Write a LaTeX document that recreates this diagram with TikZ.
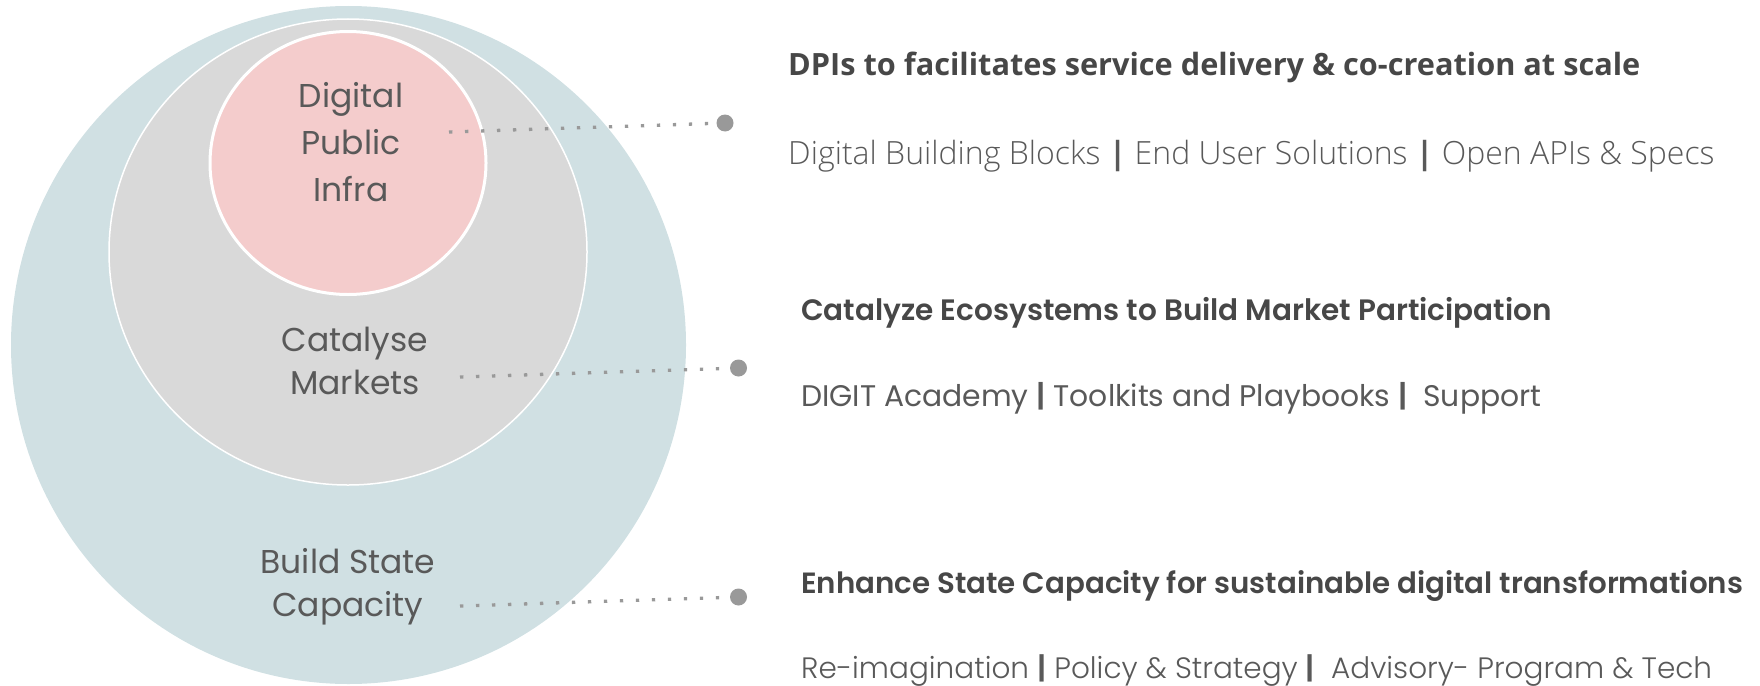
\documentclass[tikz,border=0pt]{standalone}
\usepackage{fontspec}
\setmainfont{Poppins}[BoldFont={Poppins SemiBold}]
\newfontfamily\poppinslight{Poppins Light}
\newfontfamily\opensans{Open Sans}
\newfontfamily\opensanslight{Open Sans Light}
\usetikzlibrary{positioning}
\definecolor{ringteal}{HTML}{D0E0E3}
\definecolor{ringgray}{HTML}{D9D9D9}
\definecolor{ringpink}{HTML}{F4CCCC}
\definecolor{ink}{HTML}{595959}
\definecolor{dotgray}{HTML}{999999}
\newcommand{\sepbar}{\textbf{|}}
\tikzset{
  ringtext/.style={align=center, text=ink, font=\fontsize{33}{43}\selectfont},
  headtext/.style={anchor=base west, inner sep=0pt, text=ink!80!black, font=\fontsize{29.5}{32}\selectfont\bfseries},
  subtext/.style={anchor=base west, inner sep=0pt, text=ink, font=\fontsize{29.5}{32}\selectfont\poppinslight}
}
\tikzset{
  enddot/.style={circle, fill=dotgray, minimum size=17pt, inner sep=0pt},
  dotline/.style={dotgray, line width=3.3pt, dash pattern=on 3.3pt off 12.7pt}
}
\begin{document}
\begin{tikzpicture}[x=1pt,y=-1pt]
  \useasboundingbox (0,0) rectangle (1760,685);
  %%% circles
  \fill[ringteal] (348.5,345) ellipse [x radius=337.5pt, y radius=339pt];
  \draw[white, line width=1.5pt, fill=ringgray] (348,252) ellipse [x radius=239pt, y radius=233pt];
  \draw[white, line width=3pt, fill=ringpink] (348,163) ellipse [x radius=138pt, y radius=131.5pt];
  %%% labels
  \node[ringtext, font=\fontsize{33}{47}\selectfont] (dpi) at (351,142) {Digital\\Public\\Infra};
  \node[ringtext] (mkt) at (355,361) {Catalyse\\Markets};
  \node[ringtext] (cap) at (348,587) {Build State\\Capacity};
  %%% dotted leaders
  \coordinate (dpi-start) at (449,132);
  \coordinate (mkt-start) at (460,377);
  \coordinate (cap-start) at (460,606);
  \node[enddot] (dpi-dot) at (725,123) {};
  \node[enddot] (mkt-dot) at (738.5,368) {};
  \node[enddot] (cap-dot) at (738.5,597) {};
  \foreach \s in {dpi,mkt,cap}
    \draw[dotline] (\s-start) -- (\s-dot);
  %%% texts on the right
  \node[headtext, font=\fontsize{30.7}{32}\selectfont\bfseries] (dpi-head) at (788,75) {\opensans DPIs to facilitates service delivery \& co-creation at scale};
  \node[subtext, font=\fontsize{32}{36}\selectfont] (dpi-sub) at (788,164) {\opensanslight Digital Building Blocks {\opensans\sepbar} End User Solutions {\opensans\sepbar} Open APIs \& Specs};
  \node[headtext] (mkt-head) at (801,320) {Catalyze Ecosystems to Build Market Participation};
  \node[subtext, font=\fontsize{29.8}{32}\selectfont] (mkt-sub) at (801,406) {DIGIT Academy {\normalfont\sepbar} Toolkits and Playbooks {\normalfont\sepbar}~~Support};
  \node[headtext, font=\fontsize{29.3}{32}\selectfont\bfseries] (cap-head) at (801,593) {Enhance State Capacity for sustainable digital transformations};
  \node[subtext] (cap-sub) at (801,678) {Re-imagination {\normalfont\sepbar} Policy \& Strategy {\normalfont\sepbar}~ Advisory- Program \& Tech};
\end{tikzpicture}
\end{document}
